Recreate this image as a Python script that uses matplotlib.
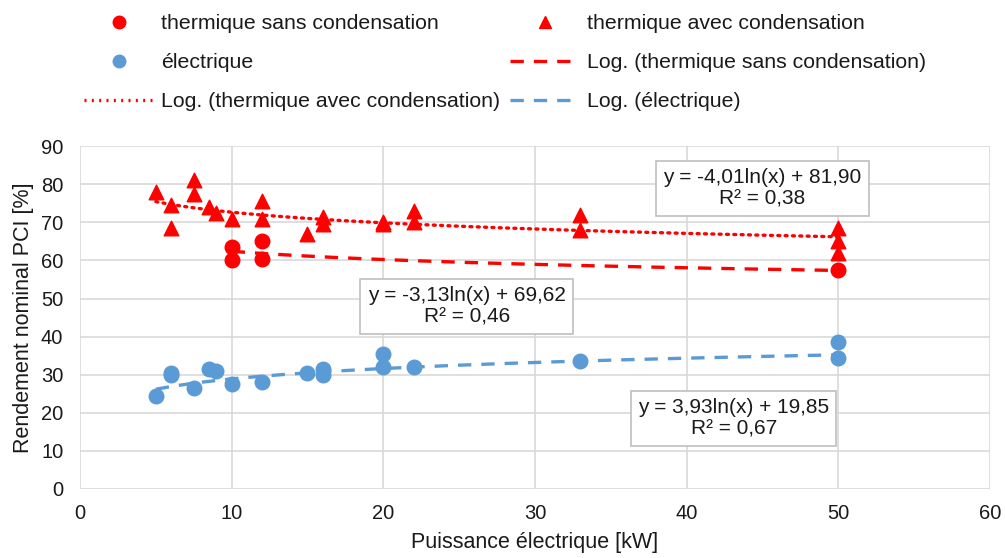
import numpy as np
from matplotlib import pyplot as plt
from matplotlib.lines import Line2D

plt.rcParams['font.family'] = ['Liberation Sans', 'DejaVu Sans']
plt.rcParams['font.size'] = 15

# thermique sans condensation
x_sans = [10, 10, 12, 12, 50]
y_sans = [63.5, 60, 65, 60.5, 57.5]

# thermique avec condensation
x_avec = [5, 6, 6, 7.5, 7.5, 8.5, 9, 10, 12, 12, 15, 16, 16, 20, 20, 22, 22, 33, 33, 50, 50, 50]
y_avec = [78, 74.5, 68.5, 81, 77.5, 74, 72.5, 71, 75.5, 71, 67, 71.5, 69.5, 70, 69.5, 73, 70, 72, 68, 68.5, 65, 62]

# électrique
x_elec = [5, 6, 6, 7.5, 8.5, 9, 10, 12, 15, 16, 16, 20, 20, 22, 33, 50, 50]
y_elec = [24.5, 30.5, 30, 26.5, 31.5, 31, 27.5, 28, 30.5, 31.5, 30, 35.5, 32, 32, 33.5, 38.5, 34.5]

# trendline coefficients (a*ln(x) + b)
fit_sans = (-3.13, 69.62)
fit_avec = (-4.01, 81.90)
fit_elec = (3.93, 19.85)

red = '#FF0000'
blue = '#5B9BD5'
txt = '#1A1A1A'

fig = plt.figure(figsize=(10.05, 5.58), dpi=100)
ax = fig.add_axes([0.0796, 0.1237, 0.9054, 0.6143])

ax.scatter(x_sans, y_sans, s=110, color=red, zorder=3)
ax.scatter(x_avec, y_avec, s=110, marker='^', color=red, zorder=3)
ax.scatter(x_elec, y_elec, s=110, color=blue, zorder=3)

def trend(xs, fit):
    xx = np.linspace(min(xs), max(xs), 200)
    return xx, fit[0] * np.log(xx) + fit[1]

xx, yy = trend(x_sans, fit_sans)
ax.plot(xx, yy, color=red, lw=2.4, ls=(0, (4, 3)), zorder=2)
xx, yy = trend(x_avec, fit_avec)
ax.plot(xx, yy, color=red, lw=2.4, ls=(0, (0.6, 1.6)), dash_capstyle='round', zorder=2)
xx, yy = trend(x_elec, fit_elec)
ax.plot(xx, yy, color=blue, lw=2.4, ls=(0, (4, 3)), zorder=2)

box = dict(boxstyle='square,pad=0.35', fc='white', ec='#BFBFBF', lw=1.2)
for x, y, s in [(45.0, 79.0, 'y = -4,01ln(x) + 81,90\nR² = 0,38'),
                (25.5, 47.9, 'y = -3,13ln(x) + 69,62\nR² = 0,46'),
                (43.1, 18.6, 'y = 3,93ln(x) + 19,85\nR² = 0,67')]:
    ax.text(x, y, s, ha='center', va='center', fontsize=15, color=txt,
            bbox=box, zorder=4, linespacing=1.15, multialignment='center')

ax.set_xlim(0, 60)
ax.set_ylim(0, 90)
ax.set_xticks(range(0, 61, 10))
ax.set_yticks(range(0, 91, 10))
ax.grid(True, color='#D9D9D9', lw=1.2)
ax.set_axisbelow(True)
for s in ax.spines.values():
    s.set_visible(False)
ax.tick_params(length=0, labelsize=14.5, colors=txt)
ax.tick_params(axis='y', pad=12)
ax.tick_params(axis='x', pad=11)
ax.set_xlabel('Puissance électrique [kW]', fontsize=15.5, color=txt, labelpad=6)
ax.set_ylabel('Rendement nominal PCI [%]', fontsize=15.5, color=txt, labelpad=5)

handles = [
    Line2D([], [], ls='none', marker='o', color=red, markersize=9),
    Line2D([], [], ls='none', marker='o', color=blue, markersize=9),
    Line2D([], [], color=red, lw=2.4, ls=(0, (0.6, 1.6))),
    Line2D([], [], ls='none', marker='^', color=red, markersize=8),
    Line2D([], [], color=red, lw=2.4, ls=(0, (4, 3))),
    Line2D([], [], color=blue, lw=2.4, ls=(0, (4, 3))),
]
labels = ['thermique sans condensation', 'électrique', 'Log. (thermique avec condensation)',
          'thermique avec condensation', 'Log. (thermique sans condensation)', 'Log. (électrique)']
fig.legend(handles, labels, loc='upper left', bbox_to_anchor=(0.0726, 0.994), ncol=2,
           frameon=False, fontsize=15.3, handlelength=3.3, handletextpad=0.35,
           columnspacing=0.45, labelspacing=0.95, borderpad=0, labelcolor=txt)

fig.savefig('out.png', dpi=100)
